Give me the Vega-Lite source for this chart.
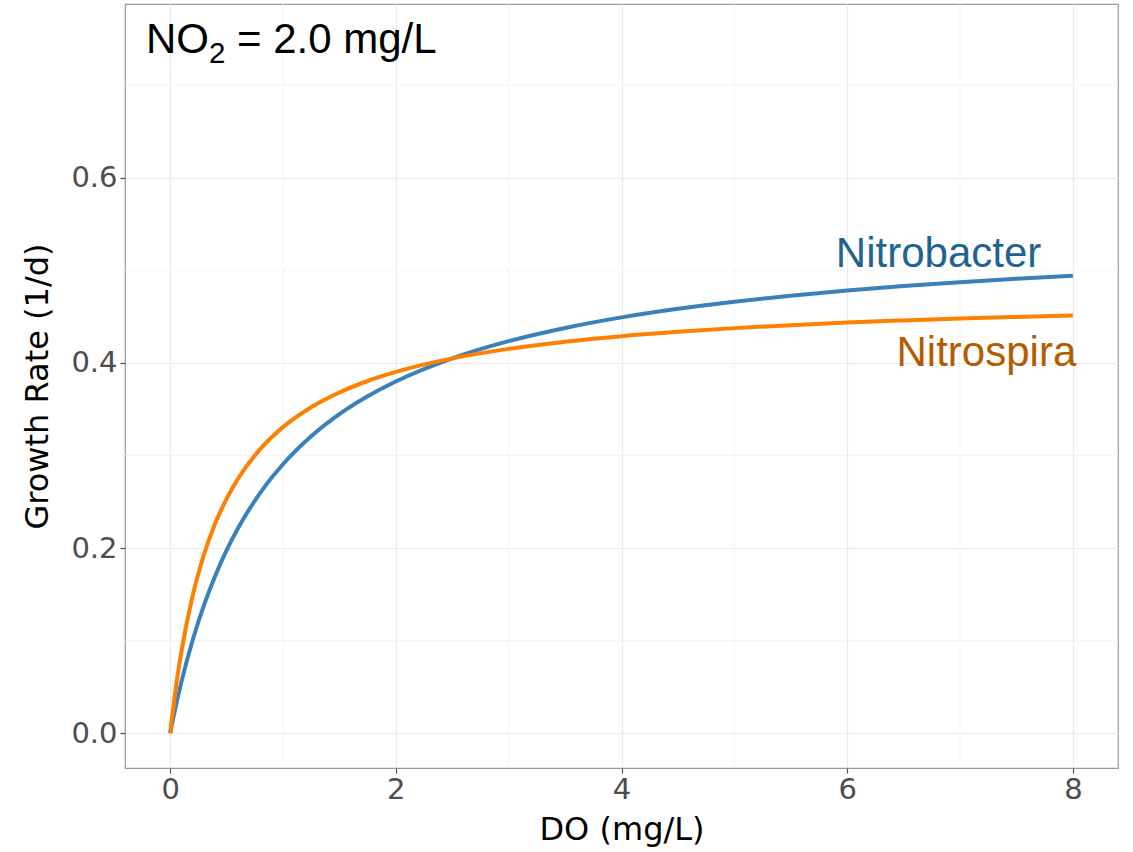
{
  "$schema": "https://vega.github.io/schema/vega-lite/v6.json",
  "width": 993,
  "height": 764,
  "autosize": {"type": "none"},
  "padding": {"left": 125, "top": 4, "right": 15, "bottom": 84},
  "background": "white",
  "config": {
    "view": {"stroke": "#999999", "strokeWidth": 1.2},
    "axis": {
      "labelFont": "DejaVu Sans",
      "labelFontSize": 29,
      "labelColor": "#4D4D4D",
      "titleFont": "DejaVu Sans",
      "titleFontSize": 32,
      "titleColor": "#000000",
      "titleFontWeight": "normal",
      "tickColor": "#4D4D4D",
      "tickSize": 5,
      "tickWidth": 1.2,
      "domain": false,
      "gridColor": "#EBEBEB",
      "gridWidth": 1.2
    }
  },
  "datasets": {
    "minorx": [{"v": 1}, {"v": 3}, {"v": 5}, {"v": 7}],
    "minory": [{"v": 0.1}, {"v": 0.3}, {"v": 0.5}, {"v": 0.7}],
    "curves": [
      {"DO": 0, "rate": 0, "species": "Nitrobacter"},
      {"DO": 0.05, "rate": 0.0292, "species": "Nitrobacter"},
      {"DO": 0.1, "rate": 0.0555, "species": "Nitrobacter"},
      {"DO": 0.2, "rate": 0.1007, "species": "Nitrobacter"},
      {"DO": 0.3, "rate": 0.1384, "species": "Nitrobacter"},
      {"DO": 0.4, "rate": 0.1702, "species": "Nitrobacter"},
      {"DO": 0.5, "rate": 0.1975, "species": "Nitrobacter"},
      {"DO": 0.6, "rate": 0.2211, "species": "Nitrobacter"},
      {"DO": 0.8, "rate": 0.2599, "species": "Nitrobacter"},
      {"DO": 1.0, "rate": 0.2905, "species": "Nitrobacter"},
      {"DO": 1.25, "rate": 0.3207, "species": "Nitrobacter"},
      {"DO": 1.5, "rate": 0.3446, "species": "Nitrobacter"},
      {"DO": 1.75, "rate": 0.3639, "species": "Nitrobacter"},
      {"DO": 2.0, "rate": 0.3799, "species": "Nitrobacter"},
      {"DO": 2.5, "rate": 0.4049, "species": "Nitrobacter"},
      {"DO": 3.0, "rate": 0.4234, "species": "Nitrobacter"},
      {"DO": 3.5, "rate": 0.4377, "species": "Nitrobacter"},
      {"DO": 4.0, "rate": 0.4491, "species": "Nitrobacter"},
      {"DO": 4.5, "rate": 0.4584, "species": "Nitrobacter"},
      {"DO": 5.0, "rate": 0.466, "species": "Nitrobacter"},
      {"DO": 5.5, "rate": 0.4725, "species": "Nitrobacter"},
      {"DO": 6.0, "rate": 0.4781, "species": "Nitrobacter"},
      {"DO": 6.5, "rate": 0.4829, "species": "Nitrobacter"},
      {"DO": 7.0, "rate": 0.4871, "species": "Nitrobacter"},
      {"DO": 7.5, "rate": 0.4908, "species": "Nitrobacter"},
      {"DO": 8.0, "rate": 0.494, "species": "Nitrobacter"},
      {"DO": 0, "rate": 0, "species": "Nitrospira"},
      {"DO": 0.05, "rate": 0.0486, "species": "Nitrospira"},
      {"DO": 0.1, "rate": 0.0881, "species": "Nitrospira"},
      {"DO": 0.2, "rate": 0.1488, "species": "Nitrospira"},
      {"DO": 0.3, "rate": 0.193, "species": "Nitrospira"},
      {"DO": 0.4, "rate": 0.2267, "species": "Nitrospira"},
      {"DO": 0.5, "rate": 0.2532, "species": "Nitrospira"},
      {"DO": 0.6, "rate": 0.2746, "species": "Nitrospira"},
      {"DO": 0.8, "rate": 0.3071, "species": "Nitrospira"},
      {"DO": 1.0, "rate": 0.3306, "species": "Nitrospira"},
      {"DO": 1.25, "rate": 0.3521, "species": "Nitrospira"},
      {"DO": 1.5, "rate": 0.368, "species": "Nitrospira"},
      {"DO": 1.75, "rate": 0.3804, "species": "Nitrospira"},
      {"DO": 2.0, "rate": 0.3902, "species": "Nitrospira"},
      {"DO": 2.5, "rate": 0.4048, "species": "Nitrospira"},
      {"DO": 3.0, "rate": 0.4151, "species": "Nitrospira"},
      {"DO": 3.5, "rate": 0.4228, "species": "Nitrospira"},
      {"DO": 4.0, "rate": 0.4288, "species": "Nitrospira"},
      {"DO": 4.5, "rate": 0.4336, "species": "Nitrospira"},
      {"DO": 5.0, "rate": 0.4375, "species": "Nitrospira"},
      {"DO": 5.5, "rate": 0.4407, "species": "Nitrospira"},
      {"DO": 6.0, "rate": 0.4435, "species": "Nitrospira"},
      {"DO": 6.5, "rate": 0.4458, "species": "Nitrospira"},
      {"DO": 7.0, "rate": 0.4478, "species": "Nitrospira"},
      {"DO": 7.5, "rate": 0.4496, "species": "Nitrospira"},
      {"DO": 8.0, "rate": 0.4512, "species": "Nitrospira"}
    ],
    "labels": [
      {"DO": 7.72, "rate": 0.504, "species": "Nitrobacter"},
      {"DO": 8.03, "rate": 0.397, "species": "Nitrospira"}
    ],
    "note": [
      {"DO": -0.214, "rate": 0.735, "part": "a", "text": "NO"},
      {"DO": -0.214, "rate": 0.735, "part": "sub", "text": "2"},
      {"DO": -0.214, "rate": 0.735, "part": "b", "text": "= 2.0 mg/L"}
    ]
  },
  "layer": [
    {
      "data": {"name": "minorx"},
      "mark": {"type": "rule", "color": "#F3F3F3", "strokeWidth": 0.8},
      "encoding": {
        "x": {"field": "v", "type": "quantitative", "title": "DO (mg/L)"}
      }
    },
    {
      "data": {"name": "minory"},
      "mark": {"type": "rule", "color": "#F3F3F3", "strokeWidth": 0.8},
      "encoding": {
        "y": {"field": "v", "type": "quantitative", "title": "Growth Rate (1/d)"}
      }
    },
    {
      "data": {"name": "curves"},
      "mark": {"type": "line", "strokeWidth": 4, "interpolate": "monotone"},
      "encoding": {
        "x": {
          "field": "DO",
          "type": "quantitative",
          "title": "DO (mg/L)",
          "scale": {"domain": [-0.4, 8.4], "nice": false, "zero": false},
          "axis": {"values": [0, 2, 4, 6, 8], "format": "d", "labelPadding": 2, "titlePadding": 10, "labelFlush": false}
        },
        "y": {
          "field": "rate",
          "type": "quantitative",
          "title": "Growth Rate (1/d)",
          "scale": {"domain": [-0.0375, 0.7875], "nice": false, "zero": false},
          "axis": {"values": [0, 0.2, 0.4, 0.6], "format": ".1f", "labelPadding": 3, "titlePadding": 16, "labelFlush": false}
        },
        "color": {
          "field": "species",
          "type": "nominal",
          "scale": {"domain": ["Nitrobacter", "Nitrospira"], "range": ["#3A80BA", "#FF8000"]},
          "legend": null
        }
      }
    },
    {
      "data": {"name": "labels"},
      "mark": {"type": "text", "align": "right", "baseline": "alphabetic", "font": "Liberation Sans", "fontSize": 42},
      "encoding": {
        "x": {"field": "DO", "type": "quantitative", "title": "DO (mg/L)"},
        "y": {"field": "rate", "type": "quantitative", "title": "Growth Rate (1/d)"},
        "text": {"field": "species"},
        "color": {
          "field": "species",
          "type": "nominal",
          "scale": {"domain": ["Nitrobacter", "Nitrospira"], "range": ["#1D6491", "#B65A00"]},
          "legend": null
        }
      }
    },
    {
      "data": {"name": "note"},
      "transform": [{"filter": "datum.part === 'a'"}],
      "mark": {"type": "text", "align": "left", "baseline": "alphabetic", "font": "Liberation Sans", "fontSize": 42, "color": "#000000"},
      "encoding": {
        "x": {"field": "DO", "type": "quantitative", "title": "DO (mg/L)"},
        "y": {"field": "rate", "type": "quantitative", "title": "Growth Rate (1/d)"},
        "text": {"field": "text"}
      }
    },
    {
      "data": {"name": "note"},
      "transform": [{"filter": "datum.part === 'sub'"}],
      "mark": {"type": "text", "align": "left", "baseline": "alphabetic", "font": "Liberation Sans", "fontSize": 29.5, "color": "#000000", "dx": 63, "dy": 10},
      "encoding": {
        "x": {"field": "DO", "type": "quantitative", "title": "DO (mg/L)"},
        "y": {"field": "rate", "type": "quantitative", "title": "Growth Rate (1/d)"},
        "text": {"field": "text"}
      }
    },
    {
      "data": {"name": "note"},
      "transform": [{"filter": "datum.part === 'b'"}],
      "mark": {"type": "text", "align": "left", "baseline": "alphabetic", "font": "Liberation Sans", "fontSize": 42, "color": "#000000", "dx": 91},
      "encoding": {
        "x": {"field": "DO", "type": "quantitative", "title": "DO (mg/L)"},
        "y": {"field": "rate", "type": "quantitative", "title": "Growth Rate (1/d)"},
        "text": {"field": "text"}
      }
    }
  ],
  "resolve": {"scale": {"color": "independent"}}
}
